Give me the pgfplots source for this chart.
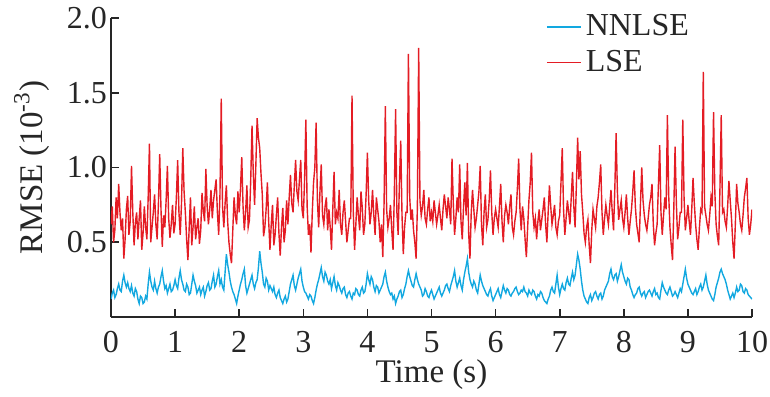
\documentclass[border=0pt]{standalone}
\usepackage{pgfplots}
\pgfplotsset{compat=1.18}
\usepackage{pgfplotstable}
\usepackage{fontspec}
\setmainfont{Liberation Serif}
\definecolor{nnblue}{RGB}{18,168,224}
\definecolor{lsered}{RGB}{228,28,36}

% LSE RMSE, one value every 0.02 s
\pgfplotstableread[row sep=\\]{
y\\
0.62\\0.74\\0.50\\0.58\\0.80\\0.66\\0.89\\0.70\\0.58\\0.66\\0.39\\0.52\\0.72\\0.81\\0.55\\0.64\\1.01\\0.70\\0.48\\0.63\\0.70\\0.52\\0.66\\0.78\\0.45\\0.56\\0.74\\0.60\\0.52\\0.80\\1.16\\0.50\\0.60\\0.70\\0.82\\0.62\\0.52\\0.76\\1.09\\0.72\\0.47\\0.68\\0.60\\0.78\\1.01\\0.66\\0.53\\0.62\\0.75\\0.56\\
0.62\\0.80\\1.05\\0.70\\0.55\\0.76\\1.13\\0.84\\0.70\\0.52\\0.38\\0.60\\0.80\\0.48\\0.60\\0.74\\0.52\\0.60\\0.66\\0.49\\0.58\\0.83\\0.71\\0.64\\0.99\\0.74\\0.62\\0.72\\0.85\\0.66\\0.78\\0.85\\0.92\\0.70\\0.55\\0.82\\1.46\\0.74\\0.60\\0.76\\0.88\\0.64\\0.50\\0.42\\0.36\\0.58\\0.80\\0.68\\0.62\\0.84\\
0.70\\0.86\\1.07\\0.74\\0.58\\0.70\\0.88\\0.60\\0.65\\0.92\\1.28\\0.96\\0.75\\1.02\\1.33\\1.20\\1.13\\0.96\\0.82\\0.54\\0.60\\0.72\\0.90\\0.64\\0.45\\0.62\\0.75\\0.48\\0.55\\0.68\\0.80\\0.56\\0.41\\0.60\\0.73\\0.50\\0.58\\0.78\\0.62\\0.80\\0.95\\0.76\\0.70\\0.88\\1.05\\0.84\\0.78\\0.92\\1.05\\0.72\\
0.66\\0.92\\1.32\\0.74\\0.55\\0.62\\0.43\\0.70\\0.90\\1.00\\1.30\\0.78\\0.60\\0.84\\1.02\\0.68\\0.62\\0.74\\0.80\\0.58\\0.72\\0.60\\0.45\\0.72\\0.97\\0.62\\0.70\\0.66\\0.85\\0.62\\0.55\\0.70\\0.78\\0.64\\0.50\\0.58\\0.66\\0.66\\1.48\\0.70\\0.45\\0.62\\0.80\\0.68\\0.58\\0.84\\0.73\\0.55\\0.62\\0.82\\
1.10\\0.78\\0.62\\0.70\\0.85\\0.68\\0.55\\0.80\\0.72\\0.64\\0.50\\0.62\\0.40\\0.76\\1.41\\0.72\\0.60\\0.66\\0.75\\0.58\\0.45\\0.82\\1.39\\0.70\\0.55\\0.90\\1.18\\0.68\\0.42\\0.60\\0.70\\0.70\\1.76\\0.80\\0.65\\0.72\\0.58\\0.50\\0.39\\0.74\\1.80\\0.78\\0.68\\0.74\\0.85\\0.66\\0.62\\0.72\\0.80\\0.64\\
0.70\\0.64\\0.78\\0.70\\0.62\\0.68\\0.75\\0.66\\0.58\\0.72\\0.82\\0.74\\0.66\\0.80\\0.72\\0.62\\1.06\\0.76\\0.55\\0.66\\0.80\\0.70\\1.02\\0.64\\0.52\\0.74\\0.90\\0.68\\1.03\\0.56\\0.39\\0.70\\0.85\\0.72\\0.60\\0.66\\0.75\\0.84\\1.01\\0.62\\0.48\\0.70\\0.82\\0.60\\0.65\\0.78\\0.98\\0.70\\0.55\\0.66\\
0.72\\0.66\\0.60\\0.74\\0.89\\0.64\\0.50\\0.68\\0.75\\0.70\\0.62\\0.74\\0.82\\0.60\\0.55\\0.64\\0.70\\0.86\\1.06\\0.72\\0.58\\0.74\\0.66\\0.52\\0.40\\0.60\\0.78\\0.90\\1.10\\0.70\\0.60\\0.66\\0.52\\0.64\\0.72\\0.58\\0.65\\0.72\\0.80\\0.62\\0.50\\0.70\\0.88\\0.74\\0.62\\0.68\\0.75\\0.60\\0.55\\0.64\\
0.68\\0.90\\1.13\\0.72\\0.55\\0.66\\0.78\\0.70\\0.62\\0.80\\0.97\\0.74\\0.60\\0.88\\1.20\\0.92\\1.11\\0.82\\0.70\\0.56\\0.50\\0.60\\0.65\\0.48\\0.36\\0.58\\0.72\\0.66\\0.60\\0.74\\0.80\\0.90\\1.02\\0.70\\0.55\\0.66\\0.75\\0.68\\0.62\\0.74\\0.85\\0.70\\0.58\\0.86\\1.23\\0.84\\0.65\\0.72\\0.78\\0.66\\
0.60\\0.70\\0.82\\0.66\\0.55\\0.64\\0.72\\0.84\\0.98\\0.74\\0.62\\0.56\\0.50\\0.76\\1.00\\0.78\\0.68\\0.62\\0.58\\0.66\\0.75\\0.80\\0.89\\0.62\\0.48\\0.56\\0.62\\0.88\\1.15\\0.70\\0.55\\0.68\\0.80\\0.72\\1.35\\0.82\\0.60\\0.48\\0.38\\0.72\\1.14\\0.76\\0.52\\0.60\\0.70\\0.70\\1.32\\0.80\\0.58\\0.66\\
0.75\\0.64\\0.55\\0.72\\0.93\\0.76\\0.62\\0.52\\0.45\\0.60\\0.72\\0.70\\1.64\\0.74\\0.68\\0.62\\0.58\\0.68\\0.80\\0.74\\1.37\\0.84\\0.62\\0.54\\0.48\\0.86\\1.35\\0.70\\0.72\\0.64\\0.60\\0.74\\0.91\\0.78\\0.66\\0.50\\0.39\\0.62\\0.89\\0.76\\0.70\\0.62\\0.58\\0.68\\0.80\\0.86\\0.93\\0.66\\0.55\\0.62\\0.72\\
}\lsedata

% NNLSE RMSE, one value every 0.02 s
\pgfplotstableread[row sep=\\]{
y\\
0.12\\0.16\\0.18\\0.13\\0.15\\0.19\\0.22\\0.18\\0.17\\0.24\\0.28\\0.23\\0.20\\0.23\\0.19\\0.17\\0.21\\0.16\\0.14\\0.19\\0.17\\0.12\\0.09\\0.14\\0.13\\0.09\\0.10\\0.14\\0.12\\0.22\\0.30\\0.24\\0.20\\0.18\\0.24\\0.19\\0.16\\0.20\\0.22\\0.27\\0.31\\0.24\\0.19\\0.21\\0.16\\0.19\\0.22\\0.17\\0.18\\0.21\\
0.25\\0.21\\0.19\\0.26\\0.31\\0.25\\0.22\\0.18\\0.17\\0.22\\0.20\\0.15\\0.16\\0.22\\0.28\\0.24\\0.21\\0.16\\0.18\\0.20\\0.15\\0.18\\0.20\\0.14\\0.17\\0.21\\0.23\\0.18\\0.19\\0.24\\0.28\\0.20\\0.22\\0.27\\0.31\\0.22\\0.25\\0.20\\0.18\\0.30\\0.42\\0.35\\0.30\\0.24\\0.20\\0.17\\0.15\\0.12\\0.09\\0.14\\
0.18\\0.22\\0.25\\0.29\\0.32\\0.21\\0.16\\0.19\\0.22\\0.25\\0.28\\0.22\\0.19\\0.23\\0.25\\0.33\\0.44\\0.36\\0.30\\0.22\\0.20\\0.26\\0.24\\0.18\\0.21\\0.19\\0.17\\0.20\\0.15\\0.13\\0.16\\0.18\\0.13\\0.11\\0.09\\0.12\\0.14\\0.10\\0.12\\0.17\\0.22\\0.25\\0.28\\0.21\\0.18\\0.22\\0.26\\0.29\\0.32\\0.24\\
0.20\\0.17\\0.16\\0.14\\0.12\\0.15\\0.14\\0.11\\0.09\\0.13\\0.18\\0.22\\0.25\\0.29\\0.33\\0.27\\0.24\\0.30\\0.28\\0.24\\0.22\\0.25\\0.19\\0.23\\0.27\\0.21\\0.18\\0.23\\0.21\\0.18\\0.16\\0.19\\0.20\\0.15\\0.13\\0.16\\0.17\\0.14\\0.12\\0.16\\0.15\\0.19\\0.18\\0.15\\0.14\\0.18\\0.20\\0.16\\0.17\\0.22\\
0.29\\0.25\\0.22\\0.27\\0.25\\0.20\\0.17\\0.21\\0.20\\0.16\\0.18\\0.20\\0.22\\0.27\\0.30\\0.24\\0.20\\0.17\\0.15\\0.16\\0.12\\0.14\\0.09\\0.12\\0.14\\0.17\\0.18\\0.13\\0.15\\0.19\\0.22\\0.27\\0.31\\0.27\\0.24\\0.21\\0.20\\0.25\\0.29\\0.25\\0.22\\0.20\\0.18\\0.14\\0.15\\0.19\\0.17\\0.14\\0.13\\0.16\\
0.18\\0.15\\0.12\\0.14\\0.16\\0.18\\0.20\\0.16\\0.14\\0.16\\0.18\\0.21\\0.22\\0.19\\0.17\\0.21\\0.24\\0.27\\0.31\\0.24\\0.20\\0.23\\0.26\\0.21\\0.18\\0.25\\0.30\\0.34\\0.39\\0.30\\0.25\\0.22\\0.20\\0.24\\0.22\\0.18\\0.16\\0.22\\0.28\\0.24\\0.21\\0.19\\0.17\\0.15\\0.14\\0.17\\0.19\\0.14\\0.11\\0.13\\
0.15\\0.17\\0.19\\0.15\\0.13\\0.17\\0.21\\0.18\\0.16\\0.19\\0.18\\0.15\\0.14\\0.16\\0.17\\0.19\\0.20\\0.17\\0.15\\0.16\\0.18\\0.17\\0.20\\0.17\\0.16\\0.14\\0.18\\0.16\\0.15\\0.18\\0.17\\0.14\\0.12\\0.15\\0.14\\0.17\\0.16\\0.13\\0.11\\0.10\\0.09\\0.12\\0.14\\0.18\\0.20\\0.17\\0.16\\0.22\\0.28\\0.20\\
0.15\\0.19\\0.22\\0.19\\0.18\\0.23\\0.26\\0.22\\0.21\\0.26\\0.30\\0.25\\0.28\\0.35\\0.42\\0.38\\0.32\\0.24\\0.18\\0.14\\0.12\\0.10\\0.09\\0.13\\0.15\\0.11\\0.13\\0.16\\0.17\\0.14\\0.12\\0.15\\0.16\\0.12\\0.14\\0.18\\0.20\\0.22\\0.24\\0.29\\0.32\\0.27\\0.25\\0.28\\0.29\\0.24\\0.27\\0.31\\0.35\\0.30\\
0.27\\0.24\\0.22\\0.26\\0.25\\0.20\\0.18\\0.15\\0.13\\0.15\\0.16\\0.19\\0.20\\0.16\\0.14\\0.16\\0.17\\0.13\\0.15\\0.17\\0.18\\0.16\\0.14\\0.17\\0.19\\0.15\\0.16\\0.13\\0.12\\0.18\\0.23\\0.20\\0.18\\0.16\\0.15\\0.18\\0.20\\0.17\\0.14\\0.15\\0.17\\0.15\\0.13\\0.16\\0.19\\0.17\\0.22\\0.27\\0.32\\0.26\\
0.22\\0.20\\0.18\\0.16\\0.15\\0.17\\0.19\\0.15\\0.17\\0.20\\0.22\\0.18\\0.20\\0.24\\0.28\\0.22\\0.18\\0.16\\0.14\\0.12\\0.11\\0.15\\0.20\\0.23\\0.26\\0.30\\0.32\\0.29\\0.27\\0.25\\0.22\\0.18\\0.15\\0.12\\0.14\\0.16\\0.13\\0.16\\0.20\\0.17\\0.18\\0.22\\0.21\\0.17\\0.16\\0.19\\0.18\\0.15\\0.14\\0.13\\0.12\\
}\nndata

\begin{document}
\begin{tikzpicture}
\begin{axis}[
  name=ax,
  scale only axis,
  width=320.5pt, height=149.5pt,
  xmin=0, xmax=10, ymin=0, ymax=2,
  axis x line*=bottom, axis y line*=left,
  axis line style={line width=0.9pt, black!85},
  tick style={line width=0.8pt, black!85},
  tick align=inside,
  major tick length=4pt,
  xtick={0,1,...,10},
  ytick={0.5,1,1.5,2},
  yticklabel style={/pgf/number format/fixed, /pgf/number format/fixed zerofill, /pgf/number format/precision=1, xshift=1.5pt},
  xticklabel style={yshift=-6pt, inner sep=1pt},
  /pgf/number format/assume math mode=true,
  ticklabel style={font=\fontsize{16}{19}\selectfont, text=black!85},
  xlabel={Time (s)},
  ylabel={RMSE (10\textsuperscript{-3})},
  label style={font=\fontsize{16.5}{19}\selectfont, text=black!85},
  xlabel style={at={(axis description cs:0.5,-0.2207)}, anchor=base, inner sep=1pt},
  ylabel style={at={(axis description cs:-0.1076,0.5)}, anchor=base},
  legend style={draw=none, fill=none, at={(rel axis cs:0.669,1.039)}, anchor=north west,
    font=\fontsize{16}{17}\selectfont, text=black!85, row sep=1.85pt},
  legend cell align=left,
]
\addplot[nnblue, line width=0.7pt] table[x expr=\coordindex*0.02, y=y] {\nndata};
\addlegendentry{NNLSE}
\addplot[lsered, line width=0.7pt] table[x expr=\coordindex*0.02, y=y] {\lsedata};
\addlegendentry{LSE}
\end{axis}
\pgfresetboundingbox
\path (ax.south west) ++(-55.5pt,-39.5pt) rectangle ++(385pt,198pt);
\end{tikzpicture}
\end{document}
